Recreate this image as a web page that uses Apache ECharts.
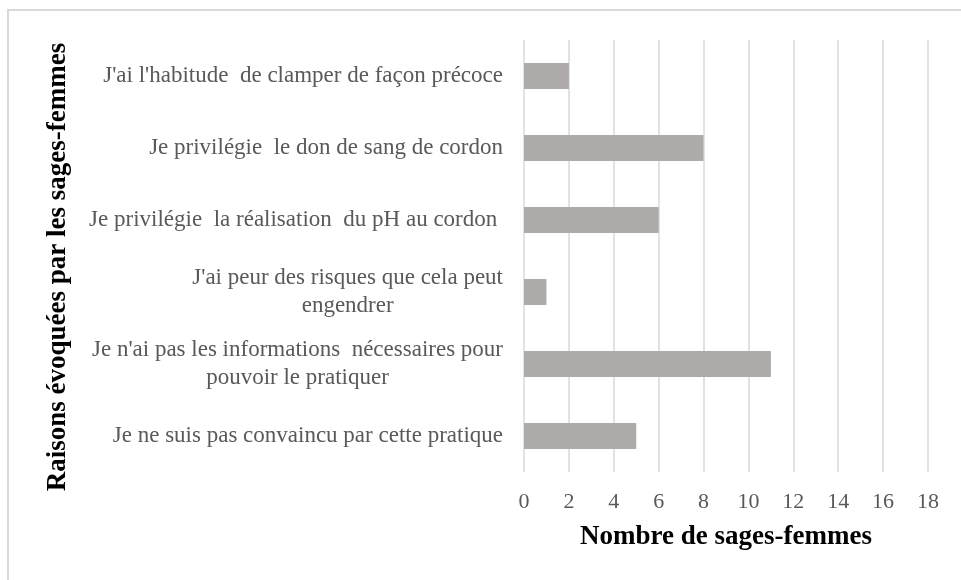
<!DOCTYPE html>
<html>
<head>
<meta charset="utf-8">
<style>
  html, body { margin: 0; padding: 0; background: #fff; }
  #chart { width: 961px; height: 580px; }
</style>
<script src="https://cdn.jsdelivr.net/npm/echarts@6/dist/echarts.min.js"></script>
</head>
<body>
<div id="chart"></div>
<script>
// raisons, de haut en bas
const raisons = [
    "J'ai l'habitude  de clamper de façon précoce",
    "Je privilégie  le don de sang de cordon",
    "Je privilégie  la réalisation  du pH au cordon ",
    "J'ai peur des risques que cela peut\nengendrer",
    "Je n'ai pas les informations  nécessaires pour\npouvoir le pratiquer",
    "Je ne suis pas convaincu par cette pratique"
];
const nombres = [2, 8, 6, 1, 11, 5];
const xMax = 18;
const xStep = 2;

const chart = echarts.init(document.getElementById('chart'));

const serif = '"Liberation Serif", "Times New Roman", serif';

const option = {
    backgroundColor: '#fff',
    animation: false,
    grid: {
        left: 524,
        right: 33,
        top: 40,
        bottom: 108
    },
    graphic: [{
        type: 'rect',
        shape: { x: 8, y: 10, width: 1000, height: 1000 },
        style: { fill: 'none', stroke: '#D9D9D9', lineWidth: 2 },
        silent: true
    }],
    xAxis: {
        type: 'value',
        min: 0,
        max: xMax,
        interval: xStep,
        name: 'Nombre de sages-femmes',
        nameLocation: 'middle',
        nameGap: 52,
        nameTextStyle: { color: '#000', fontFamily: serif, fontWeight: 'bold', fontSize: 27 },
        axisLine: { show: false },
        axisTick: { show: false },
        axisLabel: { color: '#595959', fontFamily: serif, fontSize: 22, margin: 19 },
        splitLine: { lineStyle: { color: '#D9D9D9', width: 1.5 } }
    },
    yAxis: {
        type: 'category',
        inverse: true,
        data: raisons,
        name: 'Raisons évoquées par les sages-femmes',
        nameLocation: 'middle',
        nameRotate: 90,
        nameGap: 452,
        nameTextStyle: {
            color: '#000', fontFamily: serif, fontWeight: 'bold', fontSize: 27,
            padding: [0, 22, 0, 0]
        },
        axisLine: { show: false },
        axisTick: { show: false },
        axisLabel: {
            margin: 21,
            formatter: v => v.split('\n').map(l => '{c|' + l + '}').join('\n'),
            rich: {
                c: { color: '#595959', fontFamily: serif, fontSize: 23, lineHeight: 28, align: 'center' }
            }
        }
    },
    series: [{
        type: 'bar',
        data: nombres,
        barWidth: 26,
        itemStyle: { color: '#AEAAAA' }
    }]
};

chart.setOption(option);
</script>
</body>
</html>
